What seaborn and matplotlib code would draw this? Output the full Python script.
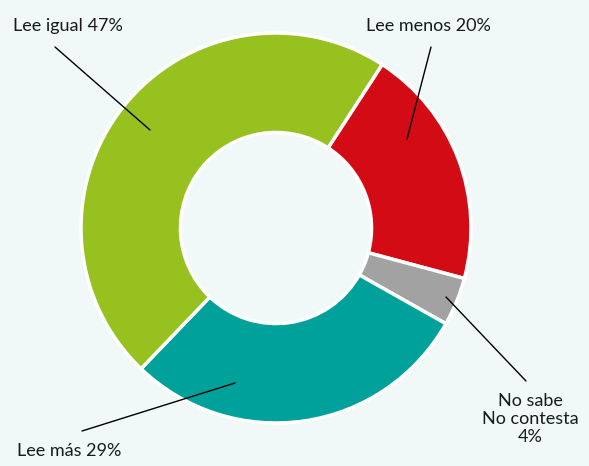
import matplotlib
matplotlib.use("Agg")
import matplotlib.pyplot as plt
import seaborn as sns

# datos
categorias = ["Lee menos", "No sabe\nNo contesta", "Lee más", "Lee igual"]
porcentajes = [20, 4, 29, 47]
colores = ["#D30B15", "#A2A2A2", "#00A19A", "#97C11F"]
etiquetas = ["Lee menos 20%", "No sabe\nNo contesta\n4%", "Lee más 29%", "Lee igual 47%"]

sns.set_theme(style="white")
plt.rcParams['font.family'] = ['Lato', 'DejaVu Sans']

fondo = "#F1F8F8"
fig = plt.figure(figsize=(5.89, 4.66), dpi=100, facecolor=fondo)
ax = fig.add_axes([0, 0, 1, 1])
ax.set_facecolor(fondo)

H = 466
centro = (276, H - 228)
radio = 195

wedges, _ = ax.pie(porcentajes, colors=colores, startangle=57, counterclock=False,
                   center=centro, radius=radio,
                   wedgeprops=dict(width=radio * 0.51, edgecolor="white", linewidth=2.5))
ax.set_xlim(0, 589)
ax.set_ylim(0, H)
ax.set_aspect('equal', adjustable='box')
ax.axis('off')

# (punta de la linea, inicio de la linea, posicion del texto, alineacion)
anotaciones = [
    ((407, 139), (431, 47), (366, 26), 'left'),
    ((446, 297), (526, 381), (530, 419), 'center'),
    ((235, 383), (82, 431), (17, 451), 'left'),
    ((150, 130), (55, 47), (13, 26), 'left'),
]
for et, (punta, inicio, pos_txt, al) in zip(etiquetas, anotaciones):
    ax.plot([punta[0], inicio[0]], [H - punta[1], H - inicio[1]], color="black", lw=1)
    ax.text(pos_txt[0], H - pos_txt[1], et, ha=al, va='center', fontsize=13,
            color="#1a1a1a", linespacing=1.15)

fig.savefig("out.png", dpi=100, facecolor=fondo)
